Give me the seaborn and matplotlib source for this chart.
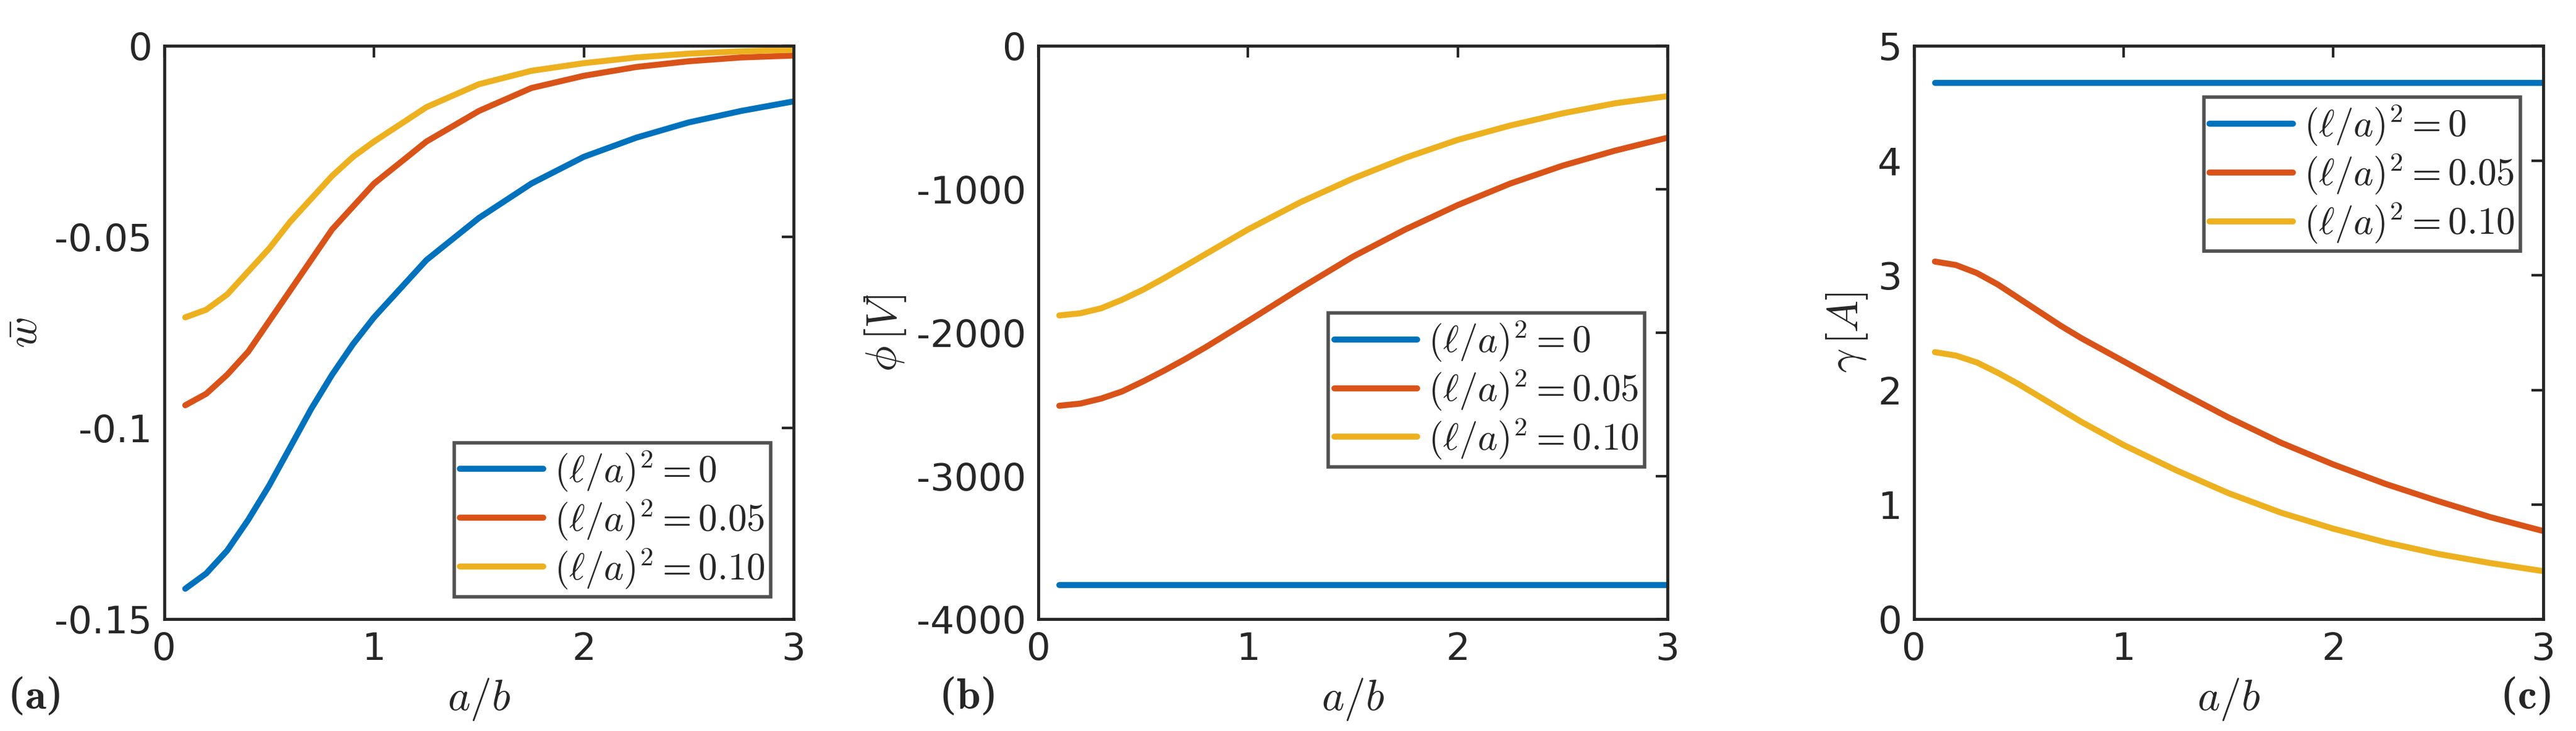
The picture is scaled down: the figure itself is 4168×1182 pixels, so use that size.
import matplotlib
matplotlib.use("Agg")
import matplotlib.pyplot as plt
import seaborn as sns
import pandas as pd

sns.set_style("white")
plt.rcParams['font.family'] = ['DejaVu Sans']
plt.rcParams['mathtext.fontset'] = 'cm'

x = [0.1, 0.2, 0.3, 0.4, 0.5, 0.6, 0.7, 0.8, 0.9, 1.0, 1.25, 1.5, 1.75, 2.0, 2.25, 2.5, 2.75, 3.0]
labels = [r'$(\ell/a)^2=0$', r'$(\ell/a)^2=0.05$', r'$(\ell/a)^2=0.10$']
colors = ['#0072BD', '#D95319', '#EDB120']

w0 = [-0.142, -0.138, -0.132, -0.124, -0.115, -0.105, -0.095, -0.086, -0.078, -0.071, -0.056, -0.045, -0.036, -0.029, -0.024, -0.020, -0.017, -0.0145]
w05 = [-0.094, -0.091, -0.086, -0.080, -0.072, -0.064, -0.056, -0.048, -0.042, -0.036, -0.025, -0.017, -0.011, -0.0078, -0.0055, -0.004, -0.003, -0.0025]
w10 = [-0.071, -0.069, -0.065, -0.059, -0.053, -0.046, -0.040, -0.034, -0.029, -0.025, -0.016, -0.010, -0.0065, -0.0045, -0.003, -0.002, -0.0014, -0.001]

phi0 = [-3760] * 18
phi05 = [-2510, -2495, -2460, -2410, -2340, -2265, -2185, -2100, -2010, -1920, -1690, -1470, -1280, -1110, -960, -835, -730, -640]
phi10 = [-1880, -1865, -1830, -1770, -1700, -1620, -1535, -1450, -1365, -1280, -1090, -925, -780, -655, -555, -470, -400, -350]

g0 = [4.68] * 18
g05 = [3.12, 3.09, 3.02, 2.92, 2.80, 2.68, 2.56, 2.45, 2.35, 2.25, 2.00, 1.76, 1.54, 1.35, 1.18, 1.03, 0.89, 0.77]
g10 = [2.33, 2.30, 2.24, 2.15, 2.05, 1.94, 1.83, 1.72, 1.62, 1.52, 1.30, 1.10, 0.93, 0.79, 0.67, 0.57, 0.49, 0.42]

fig = plt.figure(figsize=(41.68, 11.82), dpi=100)
lefts = [100/1568, 632/1568, 1165/1568]
aw = 383/1568
ab = 1 - 377/445
ah = (377-28)/445
panels = [
    ([w0, w05, w10], r'$\bar{w}$', (-0.15, 0), [-0.15, -0.1, -0.05, 0], ['-0.15', '-0.1', '-0.05', '0'], 'lower right', None),
    ([phi0, phi05, phi10], r'$\phi\,[V]$', (-4000, 0), [-4000, -3000, -2000, -1000, 0], ['-4000', '-3000', '-2000', '-1000', '0'], 'center right', (1.0, 0.40)),
    ([g0, g05, g10], r'$\gamma\,[A]$', (0, 5), [0, 1, 2, 3, 4, 5], ['0', '1', '2', '3', '4', '5'], 'upper right', (1.0, 0.95)),
]
tags = ['a', 'b', 'c']
tagx = [5/1568, 572/1568, 1522/1568]
for i, (ys, ylab, ylim, yt, ytl, loc, bba) in enumerate(panels):
    ax = fig.add_axes([lefts[i], ab, aw, ah])
    for y, lab, c in zip(ys, labels, colors):
        df = pd.DataFrame({'x': x, 'y': y})
        sns.lineplot(data=df, x='x', y='y', ax=ax, color=c, lw=7, label=lab)
    ax.set_xlim(0, 3)
    ax.set_ylim(*ylim)
    ax.set_xticks([0, 1, 2, 3])
    ax.set_xticklabels(['0', '1', '2', '3'])
    ax.set_yticks(yt)
    ax.set_yticklabels(ytl)
    ax.tick_params(labelsize=44, direction='in', length=14, width=3, top=True, right=True, color='#262626', pad=14)
    for s in ax.spines.values():
        s.set_linewidth(3.5)
        s.set_color('#262626')
    ax.set_xlabel(r'$a/b$', fontsize=50, labelpad=10)
    ax.set_ylabel(ylab, fontsize=50, labelpad=10)
    kw = dict(loc=loc, fontsize=44, frameon=True, fancybox=False, edgecolor='#262626',
              handlelength=2.2, borderpad=0.15, labelspacing=0.1, handletextpad=0.3, borderaxespad=0.6)
    if bba is not None:
        kw['bbox_to_anchor'] = bba
    leg = ax.legend(**kw)
    leg.get_frame().set_linewidth(4)
    for l in leg.get_lines():
        l.set_linewidth(7)
    fig.text(tagx[i], 0.03, '(' + r'$\mathbf{' + tags[i] + '}$' + ')', fontsize=50, family='DejaVu Serif')

fig.savefig('out.png', dpi=100, facecolor='white')
